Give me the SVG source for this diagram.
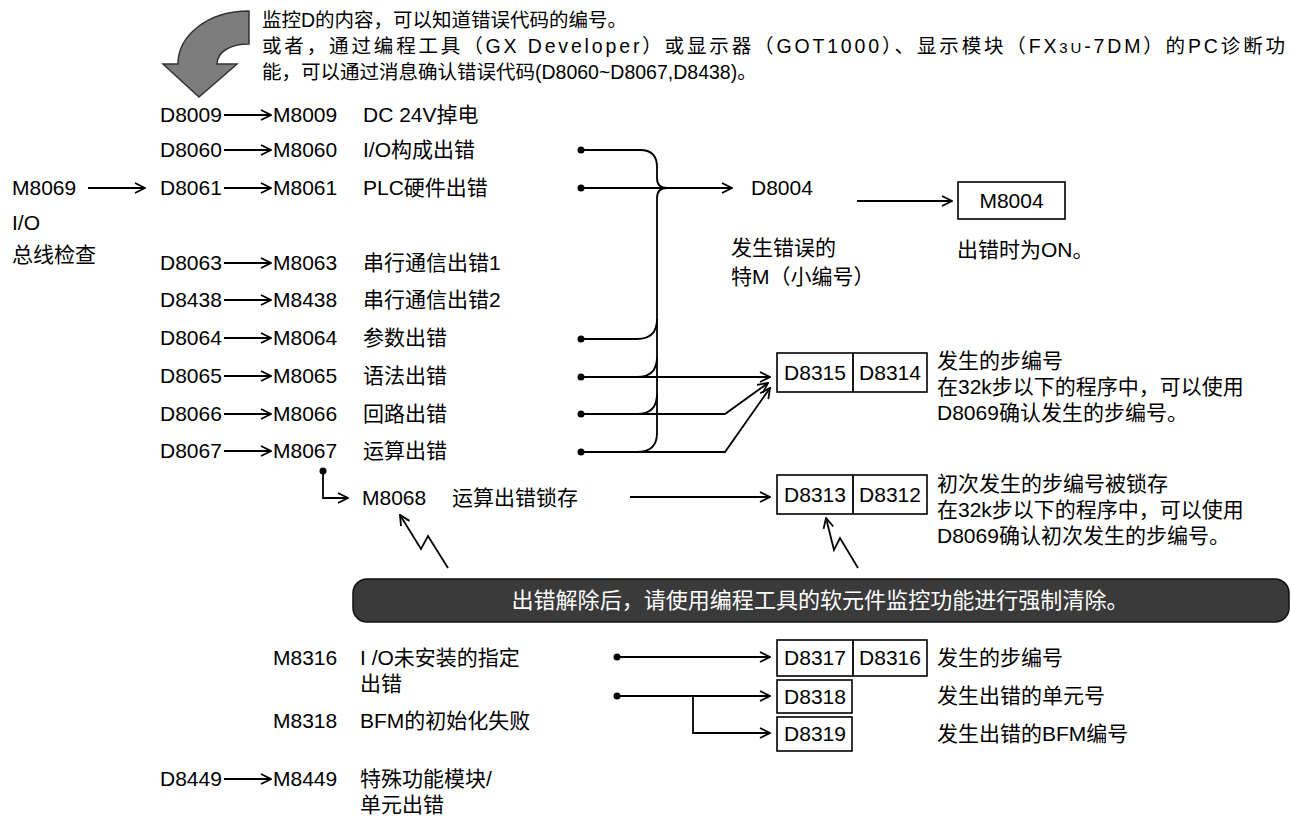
<svg xmlns="http://www.w3.org/2000/svg" width="1291" height="818" viewBox="0 0 1291 818">
<style>
text{font-family:"Liberation Sans","Noto Sans CJK SC",sans-serif;fill:#000}
.t{font-size:21px}
.top{font-size:19.5px}
.ln{stroke:#000;stroke-width:1.8;fill:none}
.ar{stroke:#000;stroke-width:1.8;fill:none;marker-end:url(#ah)}
.bx{fill:#fff;stroke:#000;stroke-width:1.6}
.dot{fill:#000}
</style>
<defs>
<marker id="ah" viewBox="0 0 12 12" refX="11" refY="6" markerWidth="12" markerHeight="12" markerUnits="userSpaceOnUse" orient="auto">
<path d="M1,1 L11,6 L1,11" fill="none" stroke="#000" stroke-width="1.8"/>
</marker>
</defs>
<rect width="1291" height="818" fill="#fff"/>

<g id="bigarrow">
<path d="M249,11 C207,11 178,36 178,64 L163,64 L199,97 L237,64 L217,64 C217,52 230,44 249,44 Z" fill="#7d7d7d" stroke="#333" stroke-width="1.5"/>
</g>
<g id="note-top">
<text class="top" x="262" y="27">监控D的内容，可以知道错误代码的编号。</text>
<text class="top" x="262" y="53" textLength="1023" lengthAdjust="spacing">或者，通过编程工具（GX Developer）或显示器（GOT1000）、显示模块（FX<tspan font-size="15">3U</tspan>-7DM）的PC诊断功</text>
<text class="top" x="262" y="79">能，可以通过消息确认错误代码(D8060~D8067,D8438)。</text>
</g>

<g id="connectors">
<path class="ar" d="M224,115 H271"/>
<path class="ar" d="M224,150 H271"/>
<path class="ar" d="M224,188 H271"/>
<path class="ar" d="M224,263 H271"/>
<path class="ar" d="M224,300 H271"/>
<path class="ar" d="M224,338 H271"/>
<path class="ar" d="M224,376 H271"/>
<path class="ar" d="M224,414 H271"/>
<path class="ar" d="M224,451 H271"/>
<path class="ar" d="M224,779 H271"/>
<path class="ar" d="M88,188 H145"/>
<path class="ln" d="M581,150 H640 Q657,150 657,167 V178 Q657,188 667,188"/>
<path class="ln" d="M667,188 Q657,188 657,198 V433 Q657,452 637,452"/>
<path class="ln" d="M581,339 H637 Q657,339 657,319"/>
<path class="ln" d="M637,377 Q657,377 657,357"/>
<path class="ln" d="M637,414 Q657,414 657,394"/>
<path class="ar" d="M581,188 H732"/>
<path class="ar" d="M857,201 H952"/>
<path class="ar" d="M581,377 H770"/>
<path class="ar" d="M581,414 H725 L768,383"/>
<path class="ar" d="M581,452 H725 L770,388"/>
<circle class="dot" cx="581" cy="150" r="3.5"/>
<circle class="dot" cx="581" cy="188" r="3.5"/>
<circle class="dot" cx="581" cy="339" r="3.5"/>
<circle class="dot" cx="581" cy="377" r="3.5"/>
<circle class="dot" cx="581" cy="414" r="3.5"/>
<circle class="dot" cx="581" cy="452" r="3.5"/>
<path class="ar" d="M323,471 V498 H348"/>
<circle class="dot" cx="323" cy="471" r="3.5"/>
<path class="ar" d="M630,497 H770"/>
<path class="ar" d="M448,568 L428,536 L421,549 L400,515"/>
<path class="ar" d="M858,568 L840,538 L834,550 L826,518"/>
<path class="ar" d="M617,657 H770"/>
<path class="ar" d="M617,696 H770"/>
<path class="ar" d="M693,696 V733 H770"/>
<circle class="dot" cx="617" cy="657" r="3.5"/>
<circle class="dot" cx="617" cy="696" r="3.5"/>
</g>

<g id="rows">
<text class="t" x="160" y="122">D8009</text><text class="t" x="273" y="122">M8009</text><text class="t" x="363" y="122">DC 24V掉电</text>
<text class="t" x="160" y="157">D8060</text><text class="t" x="273" y="157">M8060</text><text class="t" x="363" y="157">I/O构成出错</text>
<text class="t" x="160" y="195">D8061</text><text class="t" x="273" y="195">M8061</text><text class="t" x="363" y="195">PLC硬件出错</text>
<text class="t" x="160" y="270">D8063</text><text class="t" x="273" y="270">M8063</text><text class="t" x="363" y="270">串行通信出错1</text>
<text class="t" x="160" y="307">D8438</text><text class="t" x="273" y="307">M8438</text><text class="t" x="363" y="307">串行通信出错2</text>
<text class="t" x="160" y="345">D8064</text><text class="t" x="273" y="345">M8064</text><text class="t" x="363" y="345">参数出错</text>
<text class="t" x="160" y="383">D8065</text><text class="t" x="273" y="383">M8065</text><text class="t" x="363" y="383">语法出错</text>
<text class="t" x="160" y="421">D8066</text><text class="t" x="273" y="421">M8066</text><text class="t" x="363" y="421">回路出错</text>
<text class="t" x="160" y="458">D8067</text><text class="t" x="273" y="458">M8067</text><text class="t" x="363" y="458">运算出错</text>
<text class="t" x="362" y="505">M8068</text><text class="t" x="452" y="505">运算出错锁存</text>
</g>
<g id="m8069">
<text class="t" x="12" y="195">M8069</text>
<text class="t" x="12" y="230">I/O</text>
<text class="t" x="12" y="262">总线检查</text>
</g>

<g id="d8004">
<text class="t" x="751" y="195">D8004</text>
<text class="t" x="731" y="255">发生错误的</text>
<text class="t" x="731" y="284">特M（小编号）</text>
</g>
<g id="m8004">
<rect class="bx" x="958" y="182" width="107" height="37"/>
<text class="t" x="1011.5" y="208" text-anchor="middle">M8004</text>
<text class="t" x="957" y="257">出错时为ON。</text>
</g>

<g id="d8315">
<rect class="bx" x="777" y="353" width="150" height="39"/>
<line class="ln" x1="853" y1="353" x2="853" y2="392" stroke-width="1.6"/>
<text class="t" x="815" y="380" text-anchor="middle">D8315</text>
<text class="t" x="890" y="380" text-anchor="middle">D8314</text>
<text class="t" x="937" y="368">发生的步编号</text>
<text class="t" x="937" y="394">在32k步以下的程序中，可以使用</text>
<text class="t" x="937" y="420">D8069确认发生的步编号。</text>
</g>
<g id="d8313">
<rect class="bx" x="777" y="475" width="150" height="39"/>
<line class="ln" x1="853" y1="475" x2="853" y2="514" stroke-width="1.6"/>
<text class="t" x="815" y="502" text-anchor="middle">D8313</text>
<text class="t" x="890" y="502" text-anchor="middle">D8312</text>
<text class="t" x="937" y="491">初次发生的步编号被锁存</text>
<text class="t" x="937" y="517">在32k步以下的程序中，可以使用</text>
<text class="t" x="937" y="543">D8069确认初次发生的步编号。</text>
</g>

<g id="banner">
<rect x="353" y="579" width="936" height="43" rx="14" fill="#3a3a3a" stroke="#111" stroke-width="1.5"/>
<text x="820" y="608" text-anchor="middle" font-size="22" style="fill:#fff" textLength="617" lengthAdjust="spacingAndGlyphs">出错解除后，请使用编程工具的软元件监控功能进行强制清除。</text>
</g>

<g id="lower">
<text class="t" x="273" y="665">M8316</text><text class="t" x="360" y="665">I /O未安装的指定</text>
<text class="t" x="360" y="691">出错</text>
<text class="t" x="273" y="728">M8318</text><text class="t" x="360" y="728">BFM的初始化失败</text>
<text class="t" x="160" y="786">D8449</text><text class="t" x="273" y="786">M8449</text><text class="t" x="360" y="786">特殊功能模块/</text>
<text class="t" x="360" y="812">单元出错</text>
</g>
<g id="d8317">
<rect class="bx" x="777" y="640" width="150" height="36"/>
<line class="ln" x1="853" y1="640" x2="853" y2="676" stroke-width="1.6"/>
<text class="t" x="815" y="665" text-anchor="middle">D8317</text>
<text class="t" x="890" y="665" text-anchor="middle">D8316</text>
<text class="t" x="937" y="665">发生的步编号</text>
</g>
<g id="d8318">
<rect class="bx" x="777" y="680" width="75" height="33"/>
<text class="t" x="815" y="704" text-anchor="middle">D8318</text>
<text class="t" x="937" y="703">发生出错的单元号</text>
</g>
<g id="d8319">
<rect class="bx" x="777" y="717" width="75" height="34"/>
<text class="t" x="815" y="741" text-anchor="middle">D8319</text>
<text class="t" x="937" y="741">发生出错的BFM编号</text>
</g>
</svg>
